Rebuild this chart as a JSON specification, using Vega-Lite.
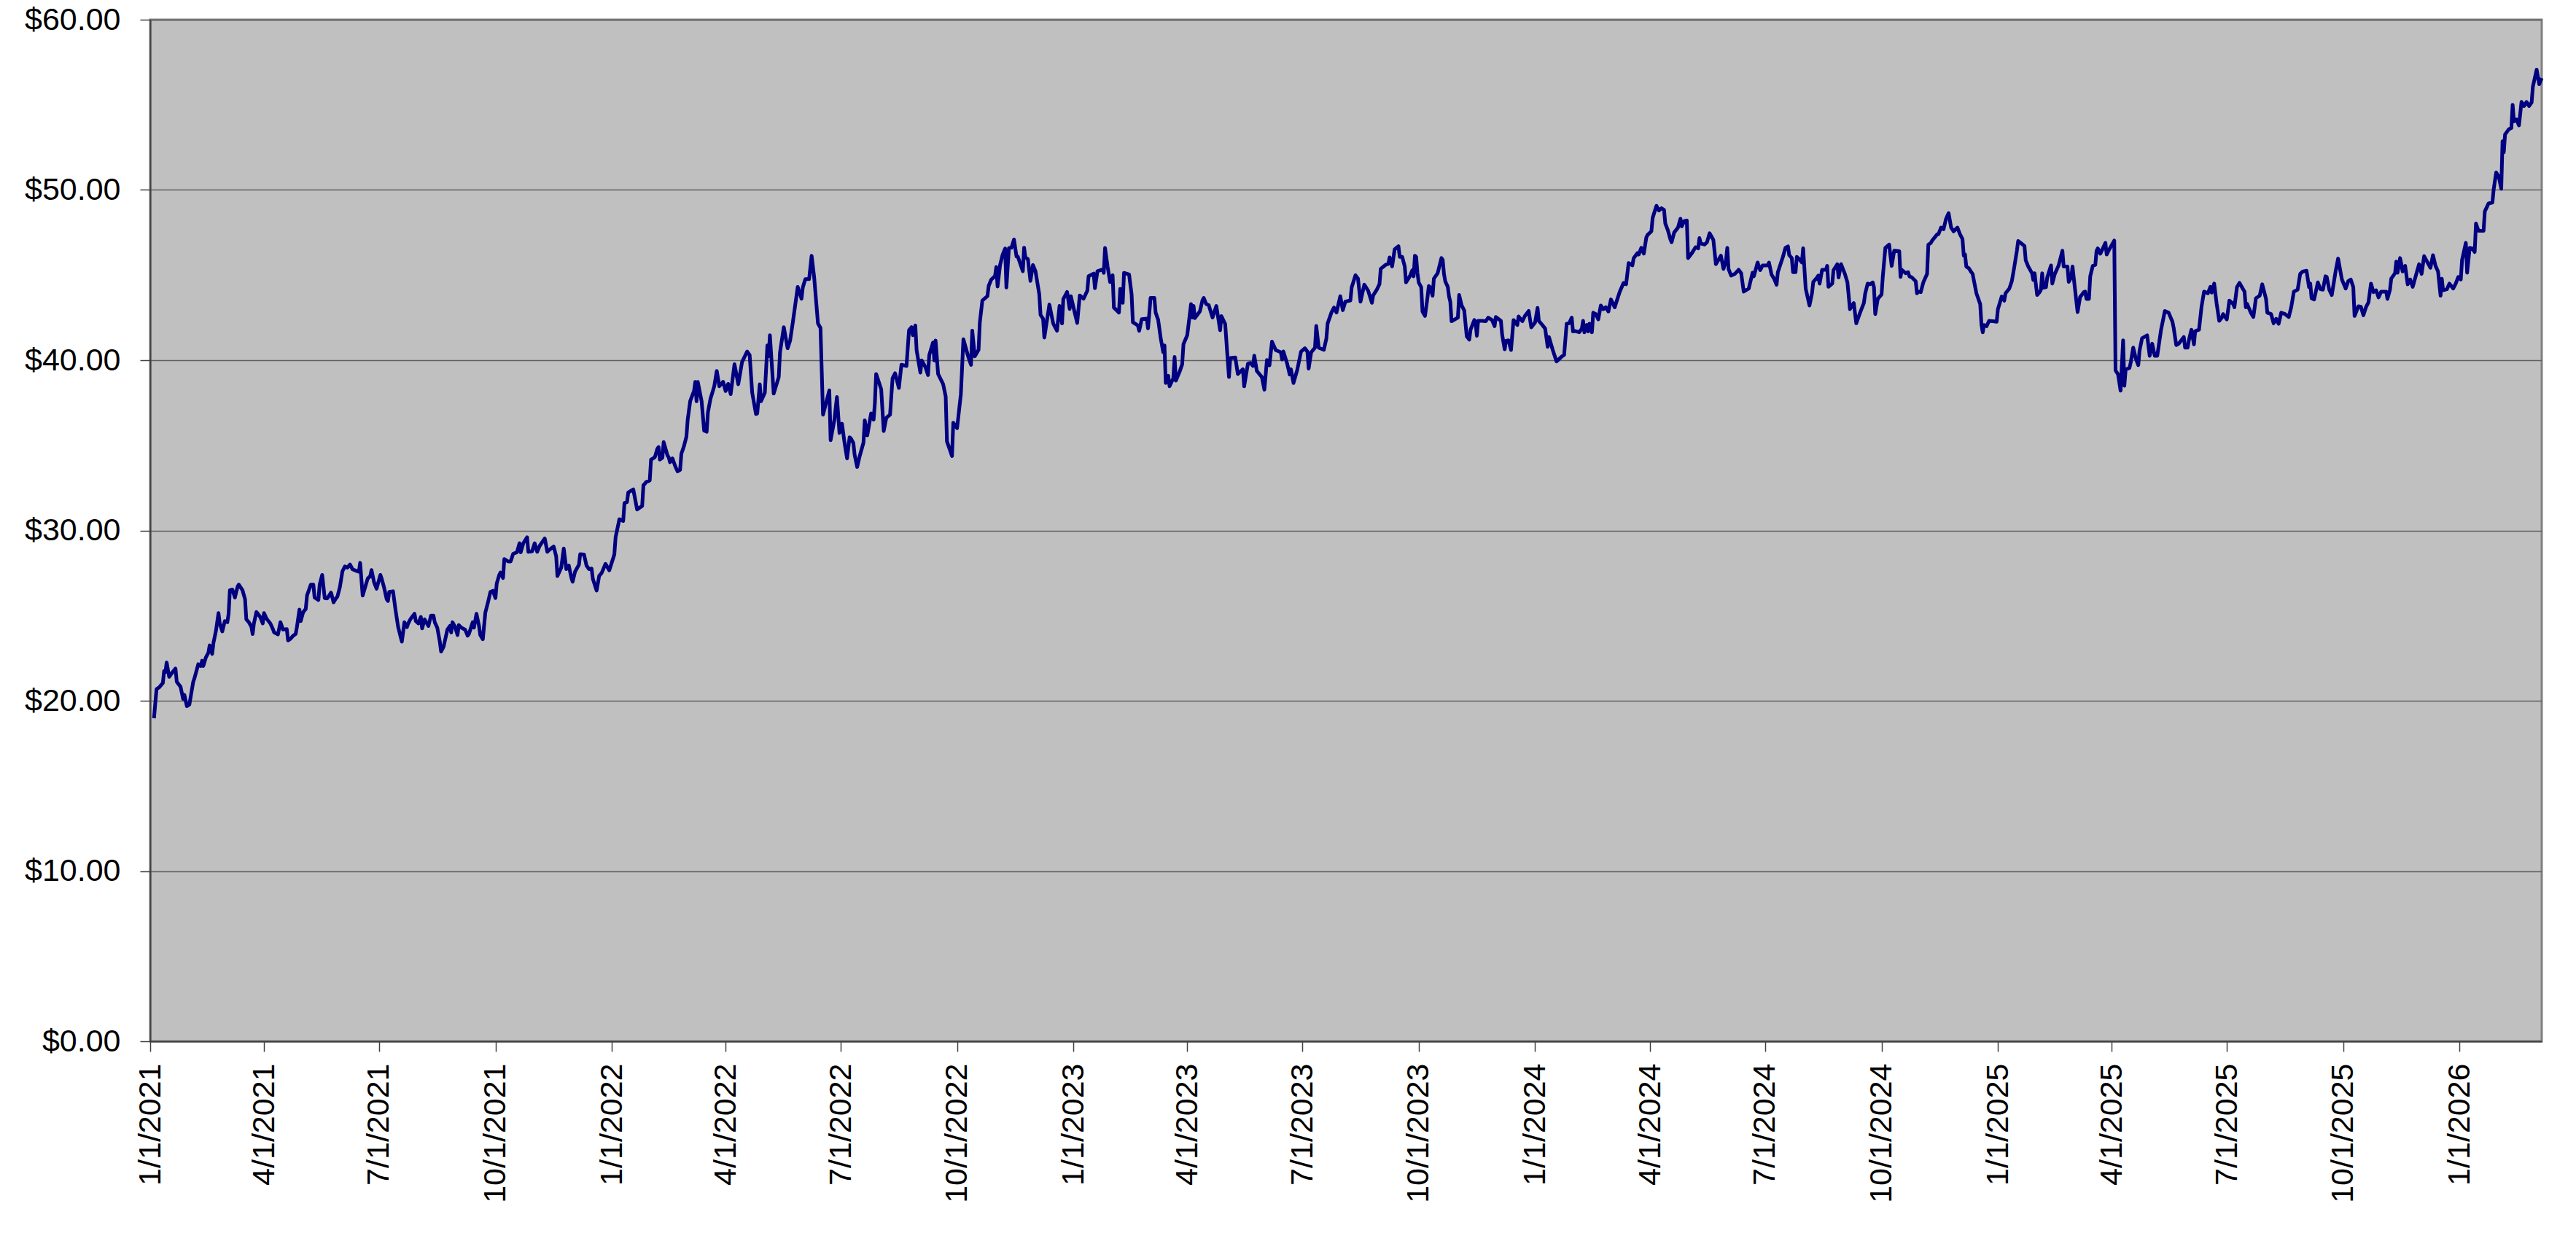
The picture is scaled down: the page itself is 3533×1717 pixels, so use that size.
{
  "$schema": "https://vega.github.io/schema/vega-lite/v6.json",
  "width": 3280,
  "height": 1401,
  "autosize": {"type": "none"},
  "padding": {"left": 206, "top": 27, "right": 47, "bottom": 289},
  "background": "#FFFFFF",
  "config": {
    "view": {"fill": "#C0C0C0", "stroke": "#808080", "strokeWidth": 3},
    "axis": {
      "labelFont": "Liberation Sans",
      "labelFontSize": 43,
      "labelColor": "#000000",
      "labelLimit": 0,
      "domainColor": "#404040",
      "domainWidth": 2,
      "tickColor": "#404040",
      "tickWidth": 1.5,
      "tickSize": 14,
      "labelFlush": false,
      "labelOverlap": false,
      "title": null
    }
  },
  "data": {
    "values": [
      {"date": "2021-01-04", "price": 18.97}, {"date": "2021-01-06", "price": 20.68}, {"date": "2021-01-08", "price": 20.78},
      {"date": "2021-01-11", "price": 21.04}, {"date": "2021-01-12", "price": 21.75}, {"date": "2021-01-13", "price": 21.68},
      {"date": "2021-01-14", "price": 22.25}, {"date": "2021-01-16", "price": 21.40}, {"date": "2021-01-18", "price": 21.61},
      {"date": "2021-01-21", "price": 21.89}, {"date": "2021-01-22", "price": 21.11}, {"date": "2021-01-25", "price": 20.82},
      {"date": "2021-01-27", "price": 20.11}, {"date": "2021-01-28", "price": 20.35}, {"date": "2021-01-30", "price": 19.68},
      {"date": "2021-02-01", "price": 19.78}, {"date": "2021-02-04", "price": 21.11}, {"date": "2021-02-05", "price": 21.32},
      {"date": "2021-02-08", "price": 22.15}, {"date": "2021-02-10", "price": 22.04}, {"date": "2021-02-11", "price": 22.35},
      {"date": "2021-02-12", "price": 22.04}, {"date": "2021-02-14", "price": 22.54}, {"date": "2021-02-16", "price": 22.82},
      {"date": "2021-02-17", "price": 23.25}, {"date": "2021-02-19", "price": 22.75}, {"date": "2021-02-20", "price": 23.39},
      {"date": "2021-02-22", "price": 24.11}, {"date": "2021-02-24", "price": 25.15}, {"date": "2021-02-25", "price": 24.54},
      {"date": "2021-02-27", "price": 24.07}, {"date": "2021-03-01", "price": 24.68}, {"date": "2021-03-03", "price": 24.61},
      {"date": "2021-03-04", "price": 25.11}, {"date": "2021-03-05", "price": 26.49}, {"date": "2021-03-07", "price": 26.53},
      {"date": "2021-03-09", "price": 26.06}, {"date": "2021-03-11", "price": 26.68}, {"date": "2021-03-12", "price": 26.82},
      {"date": "2021-03-15", "price": 26.49}, {"date": "2021-03-17", "price": 25.96}, {"date": "2021-03-18", "price": 24.78},
      {"date": "2021-03-20", "price": 24.61}, {"date": "2021-03-22", "price": 24.35}, {"date": "2021-03-23", "price": 23.92},
      {"date": "2021-03-24", "price": 24.54}, {"date": "2021-03-26", "price": 25.21}, {"date": "2021-03-29", "price": 24.92},
      {"date": "2021-03-31", "price": 24.54}, {"date": "2021-04-01", "price": 25.15}, {"date": "2021-04-03", "price": 24.82},
      {"date": "2021-04-06", "price": 24.54}, {"date": "2021-04-08", "price": 24.21}, {"date": "2021-04-09", "price": 24.01},
      {"date": "2021-04-12", "price": 23.89}, {"date": "2021-04-14", "price": 24.61}, {"date": "2021-04-16", "price": 24.18},
      {"date": "2021-04-19", "price": 24.21}, {"date": "2021-04-20", "price": 23.54}, {"date": "2021-04-22", "price": 23.64},
      {"date": "2021-04-24", "price": 23.82}, {"date": "2021-04-26", "price": 23.92}, {"date": "2021-04-27", "price": 24.32},
      {"date": "2021-04-29", "price": 25.35}, {"date": "2021-04-30", "price": 24.68}, {"date": "2021-05-02", "price": 25.21},
      {"date": "2021-05-04", "price": 25.39}, {"date": "2021-05-05", "price": 26.18}, {"date": "2021-05-08", "price": 26.82},
      {"date": "2021-05-10", "price": 26.82}, {"date": "2021-05-11", "price": 26.06}, {"date": "2021-05-14", "price": 25.92},
      {"date": "2021-05-15", "price": 26.82}, {"date": "2021-05-17", "price": 27.39}, {"date": "2021-05-19", "price": 26.03},
      {"date": "2021-05-21", "price": 26.01}, {"date": "2021-05-24", "price": 26.35}, {"date": "2021-05-26", "price": 25.78},
      {"date": "2021-05-28", "price": 26.03}, {"date": "2021-05-29", "price": 26.11}, {"date": "2021-05-31", "price": 26.68},
      {"date": "2021-06-02", "price": 27.61}, {"date": "2021-06-04", "price": 27.89}, {"date": "2021-06-06", "price": 27.82},
      {"date": "2021-06-08", "price": 28.00}, {"date": "2021-06-10", "price": 27.72}, {"date": "2021-06-13", "price": 27.63},
      {"date": "2021-06-15", "price": 27.58}, {"date": "2021-06-16", "price": 28.10}, {"date": "2021-06-18", "price": 26.18},
      {"date": "2021-06-20", "price": 26.68}, {"date": "2021-06-22", "price": 27.18}, {"date": "2021-06-24", "price": 27.32},
      {"date": "2021-06-25", "price": 27.68}, {"date": "2021-06-27", "price": 26.96}, {"date": "2021-06-29", "price": 26.58},
      {"date": "2021-07-02", "price": 27.39}, {"date": "2021-07-03", "price": 27.18}, {"date": "2021-07-05", "price": 26.63},
      {"date": "2021-07-07", "price": 25.96}, {"date": "2021-07-08", "price": 25.86}, {"date": "2021-07-09", "price": 26.39},
      {"date": "2021-07-12", "price": 26.43}, {"date": "2021-07-14", "price": 25.32}, {"date": "2021-07-16", "price": 24.35},
      {"date": "2021-07-18", "price": 23.75}, {"date": "2021-07-19", "price": 23.47}, {"date": "2021-07-21", "price": 24.61},
      {"date": "2021-07-23", "price": 24.32}, {"date": "2021-07-24", "price": 24.54}, {"date": "2021-07-26", "price": 24.82},
      {"date": "2021-07-29", "price": 25.11}, {"date": "2021-07-30", "price": 24.68}, {"date": "2021-08-01", "price": 24.54},
      {"date": "2021-08-03", "price": 24.92}, {"date": "2021-08-04", "price": 24.25}, {"date": "2021-08-06", "price": 24.78},
      {"date": "2021-08-09", "price": 24.39}, {"date": "2021-08-11", "price": 25.00}, {"date": "2021-08-13", "price": 25.00},
      {"date": "2021-08-14", "price": 24.61}, {"date": "2021-08-16", "price": 24.29}, {"date": "2021-08-18", "price": 23.47},
      {"date": "2021-08-19", "price": 22.89}, {"date": "2021-08-21", "price": 23.18}, {"date": "2021-08-24", "price": 24.18},
      {"date": "2021-08-26", "price": 24.39}, {"date": "2021-08-27", "price": 24.01}, {"date": "2021-08-28", "price": 24.61},
      {"date": "2021-08-30", "price": 24.35}, {"date": "2021-09-01", "price": 23.86}, {"date": "2021-09-02", "price": 24.44},
      {"date": "2021-09-04", "price": 24.29}, {"date": "2021-09-07", "price": 24.18}, {"date": "2021-09-09", "price": 23.82},
      {"date": "2021-09-10", "price": 23.92}, {"date": "2021-09-13", "price": 24.61}, {"date": "2021-09-14", "price": 24.29},
      {"date": "2021-09-16", "price": 25.11}, {"date": "2021-09-18", "price": 24.39}, {"date": "2021-09-19", "price": 23.86},
      {"date": "2021-09-21", "price": 23.61}, {"date": "2021-09-23", "price": 25.18}, {"date": "2021-09-25", "price": 25.75},
      {"date": "2021-09-27", "price": 26.39}, {"date": "2021-09-29", "price": 26.46}, {"date": "2021-10-01", "price": 26.03},
      {"date": "2021-10-02", "price": 26.89}, {"date": "2021-10-04", "price": 27.39}, {"date": "2021-10-05", "price": 27.53},
      {"date": "2021-10-07", "price": 27.21}, {"date": "2021-10-08", "price": 28.32}, {"date": "2021-10-11", "price": 28.18},
      {"date": "2021-10-13", "price": 28.18}, {"date": "2021-10-15", "price": 28.63}, {"date": "2021-10-18", "price": 28.72},
      {"date": "2021-10-20", "price": 29.25}, {"date": "2021-10-21", "price": 28.72}, {"date": "2021-10-23", "price": 29.25},
      {"date": "2021-10-26", "price": 29.60}, {"date": "2021-10-27", "price": 28.75}, {"date": "2021-10-30", "price": 28.78},
      {"date": "2021-11-01", "price": 29.25}, {"date": "2021-11-03", "price": 28.75}, {"date": "2021-11-05", "price": 29.10},
      {"date": "2021-11-09", "price": 29.53}, {"date": "2021-11-11", "price": 28.75}, {"date": "2021-11-13", "price": 28.89},
      {"date": "2021-11-16", "price": 29.06}, {"date": "2021-11-18", "price": 28.49}, {"date": "2021-11-19", "price": 27.32},
      {"date": "2021-11-22", "price": 27.82}, {"date": "2021-11-24", "price": 28.94}, {"date": "2021-11-26", "price": 27.73},
      {"date": "2021-11-28", "price": 27.94}, {"date": "2021-11-30", "price": 27.23}, {"date": "2021-12-01", "price": 26.99},
      {"date": "2021-12-03", "price": 27.59}, {"date": "2021-12-06", "price": 27.99}, {"date": "2021-12-07", "price": 28.61},
      {"date": "2021-12-10", "price": 28.59}, {"date": "2021-12-12", "price": 27.94}, {"date": "2021-12-14", "price": 27.73},
      {"date": "2021-12-16", "price": 27.76}, {"date": "2021-12-17", "price": 27.16}, {"date": "2021-12-20", "price": 26.47},
      {"date": "2021-12-22", "price": 27.33}, {"date": "2021-12-24", "price": 27.51}, {"date": "2021-12-27", "price": 28.04},
      {"date": "2021-12-30", "price": 27.66}, {"date": "2022-01-03", "price": 28.59}, {"date": "2022-01-04", "price": 29.61},
      {"date": "2022-01-07", "price": 30.66}, {"date": "2022-01-10", "price": 30.56}, {"date": "2022-01-11", "price": 31.61},
      {"date": "2022-01-13", "price": 31.66}, {"date": "2022-01-14", "price": 32.23}, {"date": "2022-01-18", "price": 32.41},
      {"date": "2022-01-19", "price": 32.01}, {"date": "2022-01-21", "price": 31.23}, {"date": "2022-01-25", "price": 31.44},
      {"date": "2022-01-26", "price": 32.66}, {"date": "2022-01-27", "price": 32.73}, {"date": "2022-01-28", "price": 32.84},
      {"date": "2022-01-31", "price": 32.94}, {"date": "2022-02-01", "price": 34.16}, {"date": "2022-02-04", "price": 34.30},
      {"date": "2022-02-06", "price": 34.80}, {"date": "2022-02-07", "price": 34.90}, {"date": "2022-02-08", "price": 34.16},
      {"date": "2022-02-10", "price": 34.27}, {"date": "2022-02-11", "price": 35.19}, {"date": "2022-02-14", "price": 34.41},
      {"date": "2022-02-15", "price": 34.30}, {"date": "2022-02-16", "price": 34.01}, {"date": "2022-02-18", "price": 34.23},
      {"date": "2022-02-20", "price": 33.80}, {"date": "2022-02-22", "price": 33.47}, {"date": "2022-02-24", "price": 33.56},
      {"date": "2022-02-25", "price": 34.51}, {"date": "2022-02-27", "price": 34.94}, {"date": "2022-03-01", "price": 35.51},
      {"date": "2022-03-02", "price": 36.51}, {"date": "2022-03-04", "price": 37.61}, {"date": "2022-03-07", "price": 38.19},
      {"date": "2022-03-08", "price": 38.73}, {"date": "2022-03-09", "price": 37.59}, {"date": "2022-03-10", "price": 38.73},
      {"date": "2022-03-13", "price": 37.59}, {"date": "2022-03-15", "price": 35.87}, {"date": "2022-03-17", "price": 35.80},
      {"date": "2022-03-18", "price": 36.94}, {"date": "2022-03-20", "price": 37.73}, {"date": "2022-03-23", "price": 38.47},
      {"date": "2022-03-25", "price": 39.37}, {"date": "2022-03-27", "price": 38.47}, {"date": "2022-03-30", "price": 38.73},
      {"date": "2022-04-01", "price": 38.19}, {"date": "2022-04-03", "price": 38.61}, {"date": "2022-04-05", "price": 38.01},
      {"date": "2022-04-08", "price": 39.76}, {"date": "2022-04-11", "price": 38.59}, {"date": "2022-04-14", "price": 39.90},
      {"date": "2022-04-18", "price": 40.51}, {"date": "2022-04-20", "price": 40.30}, {"date": "2022-04-22", "price": 38.09},
      {"date": "2022-04-25", "price": 36.84}, {"date": "2022-04-26", "price": 36.87}, {"date": "2022-04-28", "price": 38.59},
      {"date": "2022-04-29", "price": 37.59}, {"date": "2022-05-02", "price": 38.09}, {"date": "2022-05-04", "price": 40.87},
      {"date": "2022-05-05", "price": 40.23}, {"date": "2022-05-06", "price": 41.47}, {"date": "2022-05-09", "price": 38.04},
      {"date": "2022-05-13", "price": 39.01}, {"date": "2022-05-14", "price": 40.47}, {"date": "2022-05-17", "price": 41.94},
      {"date": "2022-05-20", "price": 40.70}, {"date": "2022-05-22", "price": 41.16}, {"date": "2022-05-24", "price": 42.16},
      {"date": "2022-05-28", "price": 44.30}, {"date": "2022-05-31", "price": 43.61}, {"date": "2022-06-01", "price": 44.27},
      {"date": "2022-06-03", "price": 44.76}, {"date": "2022-06-06", "price": 44.76}, {"date": "2022-06-08", "price": 46.13},
      {"date": "2022-06-10", "price": 44.87}, {"date": "2022-06-13", "price": 42.16}, {"date": "2022-06-15", "price": 41.90},
      {"date": "2022-06-17", "price": 36.80}, {"date": "2022-06-22", "price": 38.23}, {"date": "2022-06-23", "price": 35.30},
      {"date": "2022-06-26", "price": 36.51}, {"date": "2022-06-28", "price": 37.84}, {"date": "2022-06-30", "price": 35.73},
      {"date": "2022-07-02", "price": 36.27}, {"date": "2022-07-04", "price": 35.16}, {"date": "2022-07-06", "price": 34.23},
      {"date": "2022-07-08", "price": 35.47}, {"date": "2022-07-09", "price": 35.41}, {"date": "2022-07-11", "price": 35.13},
      {"date": "2022-07-12", "price": 34.44}, {"date": "2022-07-14", "price": 33.73}, {"date": "2022-07-16", "price": 34.37},
      {"date": "2022-07-19", "price": 35.16}, {"date": "2022-07-20", "price": 36.47}, {"date": "2022-07-22", "price": 35.59},
      {"date": "2022-07-25", "price": 36.87}, {"date": "2022-07-27", "price": 36.51}, {"date": "2022-07-28", "price": 37.47},
      {"date": "2022-07-29", "price": 39.19}, {"date": "2022-08-02", "price": 38.30}, {"date": "2022-08-04", "price": 35.84},
      {"date": "2022-08-06", "price": 36.61}, {"date": "2022-08-09", "price": 36.80}, {"date": "2022-08-11", "price": 38.94},
      {"date": "2022-08-13", "price": 39.23}, {"date": "2022-08-16", "price": 38.37}, {"date": "2022-08-18", "price": 39.73},
      {"date": "2022-08-22", "price": 39.66}, {"date": "2022-08-24", "price": 41.76}, {"date": "2022-08-26", "price": 41.94},
      {"date": "2022-08-27", "price": 41.47}, {"date": "2022-08-29", "price": 42.04}, {"date": "2022-08-30", "price": 40.59},
      {"date": "2022-09-02", "price": 39.27}, {"date": "2022-09-03", "price": 39.99}, {"date": "2022-09-06", "price": 39.59},
      {"date": "2022-09-08", "price": 39.13}, {"date": "2022-09-09", "price": 40.30}, {"date": "2022-09-12", "price": 41.04},
      {"date": "2022-09-13", "price": 39.99}, {"date": "2022-09-14", "price": 41.16}, {"date": "2022-09-16", "price": 39.19},
      {"date": "2022-09-20", "price": 38.59}, {"date": "2022-09-22", "price": 37.87}, {"date": "2022-09-23", "price": 35.23},
      {"date": "2022-09-27", "price": 34.37}, {"date": "2022-09-28", "price": 36.33}, {"date": "2022-10-01", "price": 36.01},
      {"date": "2022-10-04", "price": 38.01}, {"date": "2022-10-06", "price": 41.23}, {"date": "2022-10-10", "price": 40.16},
      {"date": "2022-10-12", "price": 39.73}, {"date": "2022-10-13", "price": 41.73}, {"date": "2022-10-15", "price": 40.23},
      {"date": "2022-10-18", "price": 40.61}, {"date": "2022-10-19", "price": 42.23}, {"date": "2022-10-21", "price": 43.51},
      {"date": "2022-10-25", "price": 43.76}, {"date": "2022-10-26", "price": 44.37}, {"date": "2022-10-28", "price": 44.73},
      {"date": "2022-10-31", "price": 44.94}, {"date": "2022-11-01", "price": 45.47}, {"date": "2022-11-02", "price": 44.33},
      {"date": "2022-11-04", "price": 45.59}, {"date": "2022-11-06", "price": 46.19}, {"date": "2022-11-08", "price": 46.56},
      {"date": "2022-11-09", "price": 44.27}, {"date": "2022-11-11", "price": 46.59}, {"date": "2022-11-13", "price": 46.61},
      {"date": "2022-11-15", "price": 47.09}, {"date": "2022-11-17", "price": 46.09}, {"date": "2022-11-18", "price": 46.09},
      {"date": "2022-11-22", "price": 45.23}, {"date": "2022-11-23", "price": 46.61}, {"date": "2022-11-24", "price": 46.04},
      {"date": "2022-11-26", "price": 45.94}, {"date": "2022-11-28", "price": 44.66}, {"date": "2022-11-30", "price": 45.59},
      {"date": "2022-12-02", "price": 45.23}, {"date": "2022-12-05", "price": 43.87}, {"date": "2022-12-06", "price": 42.66},
      {"date": "2022-12-08", "price": 42.44}, {"date": "2022-12-09", "price": 41.33}, {"date": "2022-12-13", "price": 43.27},
      {"date": "2022-12-16", "price": 42.16}, {"date": "2022-12-19", "price": 41.73}, {"date": "2022-12-21", "price": 43.19},
      {"date": "2022-12-23", "price": 42.16}, {"date": "2022-12-24", "price": 43.59}, {"date": "2022-12-27", "price": 44.01},
      {"date": "2022-12-29", "price": 43.01}, {"date": "2022-12-30", "price": 43.76}, {"date": "2023-01-02", "price": 42.80},
      {"date": "2023-01-04", "price": 42.19}, {"date": "2023-01-06", "price": 43.80}, {"date": "2023-01-09", "price": 43.61},
      {"date": "2023-01-12", "price": 44.09}, {"date": "2023-01-13", "price": 44.94}, {"date": "2023-01-17", "price": 45.09},
      {"date": "2023-01-18", "price": 44.23}, {"date": "2023-01-20", "price": 45.23}, {"date": "2023-01-24", "price": 45.33},
      {"date": "2023-01-25", "price": 45.13}, {"date": "2023-01-26", "price": 46.59}, {"date": "2023-01-28", "price": 45.51},
      {"date": "2023-01-30", "price": 44.59}, {"date": "2023-02-01", "price": 44.99}, {"date": "2023-02-02", "price": 43.09},
      {"date": "2023-02-06", "price": 42.80}, {"date": "2023-02-07", "price": 44.19}, {"date": "2023-02-09", "price": 43.37},
      {"date": "2023-02-10", "price": 45.13}, {"date": "2023-02-14", "price": 45.04}, {"date": "2023-02-16", "price": 43.87},
      {"date": "2023-02-17", "price": 42.23}, {"date": "2023-02-21", "price": 42.04}, {"date": "2023-02-22", "price": 41.73},
      {"date": "2023-02-24", "price": 42.41}, {"date": "2023-02-28", "price": 42.44}, {"date": "2023-03-01", "price": 41.87},
      {"date": "2023-03-03", "price": 43.66}, {"date": "2023-03-06", "price": 43.66}, {"date": "2023-03-07", "price": 42.80},
      {"date": "2023-03-09", "price": 42.37}, {"date": "2023-03-11", "price": 41.30}, {"date": "2023-03-13", "price": 40.47},
      {"date": "2023-03-14", "price": 40.87}, {"date": "2023-03-15", "price": 38.66}, {"date": "2023-03-17", "price": 39.09},
      {"date": "2023-03-18", "price": 38.47}, {"date": "2023-03-21", "price": 38.94}, {"date": "2023-03-22", "price": 40.19},
      {"date": "2023-03-23", "price": 38.80}, {"date": "2023-03-26", "price": 39.33}, {"date": "2023-03-28", "price": 39.76},
      {"date": "2023-03-29", "price": 40.94}, {"date": "2023-04-01", "price": 41.47}, {"date": "2023-04-04", "price": 43.30},
      {"date": "2023-04-05", "price": 42.51}, {"date": "2023-04-06", "price": 43.19}, {"date": "2023-04-07", "price": 42.47},
      {"date": "2023-04-11", "price": 42.87}, {"date": "2023-04-13", "price": 43.51}, {"date": "2023-04-14", "price": 43.66},
      {"date": "2023-04-16", "price": 43.30}, {"date": "2023-04-18", "price": 43.23}, {"date": "2023-04-21", "price": 42.51},
      {"date": "2023-04-24", "price": 43.19}, {"date": "2023-04-27", "price": 41.76}, {"date": "2023-04-28", "price": 42.59},
      {"date": "2023-05-01", "price": 42.13}, {"date": "2023-05-03", "price": 40.01}, {"date": "2023-05-04", "price": 39.01},
      {"date": "2023-05-05", "price": 40.13}, {"date": "2023-05-09", "price": 40.16}, {"date": "2023-05-11", "price": 39.19},
      {"date": "2023-05-15", "price": 39.47}, {"date": "2023-05-16", "price": 38.47}, {"date": "2023-05-19", "price": 39.80},
      {"date": "2023-05-21", "price": 39.84}, {"date": "2023-05-23", "price": 39.66}, {"date": "2023-05-24", "price": 40.27},
      {"date": "2023-05-26", "price": 39.37}, {"date": "2023-05-30", "price": 39.01}, {"date": "2023-06-01", "price": 38.27},
      {"date": "2023-06-03", "price": 40.01}, {"date": "2023-06-05", "price": 39.70}, {"date": "2023-06-07", "price": 41.09},
      {"date": "2023-06-10", "price": 40.59}, {"date": "2023-06-14", "price": 40.47}, {"date": "2023-06-15", "price": 40.04},
      {"date": "2023-06-16", "price": 40.51}, {"date": "2023-06-19", "price": 39.80}, {"date": "2023-06-21", "price": 39.16},
      {"date": "2023-06-22", "price": 39.47}, {"date": "2023-06-24", "price": 38.66}, {"date": "2023-06-27", "price": 39.44},
      {"date": "2023-06-30", "price": 40.51}, {"date": "2023-07-03", "price": 40.70}, {"date": "2023-07-05", "price": 40.51},
      {"date": "2023-07-06", "price": 39.51}, {"date": "2023-07-08", "price": 40.47}, {"date": "2023-07-11", "price": 40.73},
      {"date": "2023-07-12", "price": 42.01}, {"date": "2023-07-14", "price": 40.73}, {"date": "2023-07-18", "price": 40.61},
      {"date": "2023-07-20", "price": 41.27}, {"date": "2023-07-21", "price": 42.16}, {"date": "2023-07-24", "price": 42.80},
      {"date": "2023-07-26", "price": 43.09}, {"date": "2023-07-28", "price": 42.80}, {"date": "2023-07-31", "price": 43.76},
      {"date": "2023-08-02", "price": 42.94}, {"date": "2023-08-04", "price": 43.44}, {"date": "2023-08-08", "price": 43.51},
      {"date": "2023-08-09", "price": 44.27}, {"date": "2023-08-12", "price": 44.99}, {"date": "2023-08-14", "price": 44.80},
      {"date": "2023-08-16", "price": 43.44}, {"date": "2023-08-19", "price": 44.44}, {"date": "2023-08-22", "price": 44.09},
      {"date": "2023-08-25", "price": 43.37}, {"date": "2023-08-26", "price": 43.80}, {"date": "2023-08-29", "price": 44.16},
      {"date": "2023-08-31", "price": 44.47}, {"date": "2023-09-01", "price": 45.37}, {"date": "2023-09-05", "price": 45.61},
      {"date": "2023-09-07", "price": 45.66}, {"date": "2023-09-08", "price": 46.04}, {"date": "2023-09-10", "price": 45.51},
      {"date": "2023-09-12", "price": 46.51}, {"date": "2023-09-15", "price": 46.70}, {"date": "2023-09-16", "price": 46.07},
      {"date": "2023-09-18", "price": 46.07}, {"date": "2023-09-20", "price": 45.50}, {"date": "2023-09-21", "price": 44.57},
      {"date": "2023-09-24", "price": 44.93}, {"date": "2023-09-26", "price": 45.29}, {"date": "2023-09-27", "price": 44.93},
      {"date": "2023-09-28", "price": 46.14}, {"date": "2023-09-29", "price": 46.07}, {"date": "2023-09-30", "price": 45.14},
      {"date": "2023-10-01", "price": 44.57}, {"date": "2023-10-03", "price": 44.29}, {"date": "2023-10-04", "price": 42.86},
      {"date": "2023-10-06", "price": 42.60}, {"date": "2023-10-08", "price": 43.71}, {"date": "2023-10-09", "price": 44.36},
      {"date": "2023-10-10", "price": 44.29}, {"date": "2023-10-12", "price": 43.79}, {"date": "2023-10-13", "price": 44.79},
      {"date": "2023-10-16", "price": 45.11}, {"date": "2023-10-19", "price": 46.00}, {"date": "2023-10-20", "price": 45.89},
      {"date": "2023-10-21", "price": 45.07}, {"date": "2023-10-22", "price": 44.64}, {"date": "2023-10-24", "price": 44.31},
      {"date": "2023-10-25", "price": 43.74}, {"date": "2023-10-26", "price": 43.43}, {"date": "2023-10-27", "price": 42.29},
      {"date": "2023-10-31", "price": 42.46}, {"date": "2023-11-01", "price": 42.50}, {"date": "2023-11-02", "price": 43.83},
      {"date": "2023-11-04", "price": 43.21}, {"date": "2023-11-06", "price": 42.93}, {"date": "2023-11-08", "price": 41.40},
      {"date": "2023-11-10", "price": 41.21}, {"date": "2023-11-11", "price": 41.79}, {"date": "2023-11-14", "price": 42.36},
      {"date": "2023-11-15", "price": 42.21}, {"date": "2023-11-16", "price": 41.43}, {"date": "2023-11-17", "price": 42.31},
      {"date": "2023-11-20", "price": 42.31}, {"date": "2023-11-23", "price": 42.29}, {"date": "2023-11-25", "price": 42.50},
      {"date": "2023-11-28", "price": 42.36}, {"date": "2023-11-30", "price": 42.00}, {"date": "2023-12-01", "price": 42.54},
      {"date": "2023-12-05", "price": 42.31}, {"date": "2023-12-06", "price": 41.50}, {"date": "2023-12-08", "price": 40.64},
      {"date": "2023-12-09", "price": 41.14}, {"date": "2023-12-11", "price": 41.17}, {"date": "2023-12-13", "price": 40.60},
      {"date": "2023-12-15", "price": 42.36}, {"date": "2023-12-18", "price": 42.07}, {"date": "2023-12-19", "price": 42.57},
      {"date": "2023-12-22", "price": 42.29}, {"date": "2023-12-24", "price": 42.60}, {"date": "2023-12-27", "price": 42.89},
      {"date": "2023-12-29", "price": 41.93}, {"date": "2024-01-01", "price": 42.21}, {"date": "2024-01-03", "price": 43.07},
      {"date": "2024-01-04", "price": 42.31}, {"date": "2024-01-06", "price": 42.14}, {"date": "2024-01-09", "price": 41.86},
      {"date": "2024-01-11", "price": 40.79}, {"date": "2024-01-12", "price": 41.36}, {"date": "2024-01-15", "price": 40.60},
      {"date": "2024-01-18", "price": 39.93}, {"date": "2024-01-22", "price": 40.21}, {"date": "2024-01-24", "price": 40.31},
      {"date": "2024-01-26", "price": 42.14}, {"date": "2024-01-28", "price": 42.17}, {"date": "2024-01-30", "price": 42.50},
      {"date": "2024-01-31", "price": 41.69}, {"date": "2024-02-02", "price": 41.71}, {"date": "2024-02-05", "price": 41.64},
      {"date": "2024-02-07", "price": 41.86}, {"date": "2024-02-08", "price": 42.31}, {"date": "2024-02-09", "price": 41.64},
      {"date": "2024-02-11", "price": 42.07}, {"date": "2024-02-12", "price": 41.69}, {"date": "2024-02-13", "price": 42.14},
      {"date": "2024-02-15", "price": 41.64}, {"date": "2024-02-16", "price": 42.79}, {"date": "2024-02-18", "price": 42.71},
      {"date": "2024-02-20", "price": 42.40}, {"date": "2024-02-22", "price": 43.21}, {"date": "2024-02-24", "price": 43.00},
      {"date": "2024-02-26", "price": 43.11}, {"date": "2024-02-28", "price": 42.86}, {"date": "2024-03-01", "price": 43.57},
      {"date": "2024-03-04", "price": 43.11}, {"date": "2024-03-06", "price": 43.57}, {"date": "2024-03-08", "price": 44.03},
      {"date": "2024-03-11", "price": 44.54}, {"date": "2024-03-13", "price": 44.46}, {"date": "2024-03-15", "price": 45.71},
      {"date": "2024-03-18", "price": 45.57}, {"date": "2024-03-19", "price": 46.00}, {"date": "2024-03-22", "price": 46.29},
      {"date": "2024-03-23", "price": 46.21}, {"date": "2024-03-25", "price": 46.60}, {"date": "2024-03-27", "price": 46.26},
      {"date": "2024-03-29", "price": 47.21}, {"date": "2024-03-30", "price": 47.36}, {"date": "2024-04-02", "price": 47.57},
      {"date": "2024-04-03", "price": 48.36}, {"date": "2024-04-04", "price": 48.60}, {"date": "2024-04-06", "price": 49.07},
      {"date": "2024-04-08", "price": 48.79}, {"date": "2024-04-10", "price": 48.93}, {"date": "2024-04-12", "price": 48.83},
      {"date": "2024-04-13", "price": 48.03}, {"date": "2024-04-15", "price": 47.64}, {"date": "2024-04-17", "price": 47.11},
      {"date": "2024-04-18", "price": 46.93}, {"date": "2024-04-20", "price": 47.50}, {"date": "2024-04-23", "price": 47.79},
      {"date": "2024-04-25", "price": 48.31}, {"date": "2024-04-26", "price": 47.86}, {"date": "2024-04-28", "price": 48.17},
      {"date": "2024-04-30", "price": 48.21}, {"date": "2024-05-01", "price": 46.00}, {"date": "2024-05-04", "price": 46.29},
      {"date": "2024-05-07", "price": 46.64}, {"date": "2024-05-09", "price": 46.57}, {"date": "2024-05-10", "price": 47.17},
      {"date": "2024-05-11", "price": 46.86}, {"date": "2024-05-14", "price": 46.79}, {"date": "2024-05-16", "price": 46.93},
      {"date": "2024-05-18", "price": 47.46}, {"date": "2024-05-21", "price": 47.07}, {"date": "2024-05-23", "price": 45.64},
      {"date": "2024-05-27", "price": 46.14}, {"date": "2024-05-29", "price": 45.36}, {"date": "2024-05-31", "price": 45.86},
      {"date": "2024-06-01", "price": 46.60}, {"date": "2024-06-02", "price": 45.36}, {"date": "2024-06-04", "price": 44.97},
      {"date": "2024-06-07", "price": 45.07}, {"date": "2024-06-10", "price": 45.31}, {"date": "2024-06-12", "price": 45.11},
      {"date": "2024-06-14", "price": 44.03}, {"date": "2024-06-18", "price": 44.21}, {"date": "2024-06-21", "price": 45.14},
      {"date": "2024-06-22", "price": 44.93}, {"date": "2024-06-25", "price": 45.74}, {"date": "2024-06-27", "price": 45.29},
      {"date": "2024-06-29", "price": 45.57}, {"date": "2024-07-03", "price": 45.57}, {"date": "2024-07-04", "price": 45.74},
      {"date": "2024-07-06", "price": 45.03}, {"date": "2024-07-08", "price": 44.79}, {"date": "2024-07-10", "price": 44.43},
      {"date": "2024-07-11", "price": 45.17}, {"date": "2024-07-15", "price": 46.07}, {"date": "2024-07-17", "price": 46.60},
      {"date": "2024-07-19", "price": 46.69}, {"date": "2024-07-20", "price": 46.17}, {"date": "2024-07-22", "price": 46.00},
      {"date": "2024-07-23", "price": 45.17}, {"date": "2024-07-25", "price": 45.17}, {"date": "2024-07-26", "price": 46.07},
      {"date": "2024-07-28", "price": 45.93}, {"date": "2024-07-30", "price": 45.74}, {"date": "2024-07-31", "price": 46.57},
      {"date": "2024-08-02", "price": 44.21}, {"date": "2024-08-05", "price": 43.21}, {"date": "2024-08-07", "price": 43.93},
      {"date": "2024-08-08", "price": 44.60}, {"date": "2024-08-11", "price": 44.86}, {"date": "2024-08-12", "price": 44.97},
      {"date": "2024-08-13", "price": 44.50}, {"date": "2024-08-15", "price": 45.31}, {"date": "2024-08-18", "price": 45.31},
      {"date": "2024-08-19", "price": 45.54}, {"date": "2024-08-20", "price": 44.31}, {"date": "2024-08-23", "price": 44.50},
      {"date": "2024-08-24", "price": 45.29}, {"date": "2024-08-27", "price": 45.64}, {"date": "2024-08-28", "price": 44.86},
      {"date": "2024-08-30", "price": 45.64}, {"date": "2024-09-02", "price": 45.07}, {"date": "2024-09-04", "price": 44.57},
      {"date": "2024-09-05", "price": 43.79}, {"date": "2024-09-06", "price": 43.00}, {"date": "2024-09-09", "price": 43.36},
      {"date": "2024-09-11", "price": 42.17}, {"date": "2024-09-14", "price": 42.79}, {"date": "2024-09-17", "price": 43.36},
      {"date": "2024-09-18", "price": 43.89}, {"date": "2024-09-20", "price": 44.50}, {"date": "2024-09-22", "price": 44.46},
      {"date": "2024-09-24", "price": 44.57}, {"date": "2024-09-25", "price": 44.29}, {"date": "2024-09-26", "price": 42.71},
      {"date": "2024-09-28", "price": 43.60}, {"date": "2024-10-01", "price": 43.86}, {"date": "2024-10-02", "price": 44.93},
      {"date": "2024-10-04", "price": 46.60}, {"date": "2024-10-07", "price": 46.79}, {"date": "2024-10-09", "price": 45.54},
      {"date": "2024-10-11", "price": 46.43}, {"date": "2024-10-15", "price": 46.40}, {"date": "2024-10-16", "price": 44.89},
      {"date": "2024-10-17", "price": 45.31}, {"date": "2024-10-20", "price": 45.11}, {"date": "2024-10-22", "price": 45.17},
      {"date": "2024-10-23", "price": 44.93}, {"date": "2024-10-25", "price": 44.86}, {"date": "2024-10-28", "price": 44.64},
      {"date": "2024-10-29", "price": 43.93}, {"date": "2024-10-30", "price": 44.03}, {"date": "2024-11-01", "price": 44.00},
      {"date": "2024-11-03", "price": 44.57}, {"date": "2024-11-06", "price": 45.07}, {"date": "2024-11-07", "price": 46.79},
      {"date": "2024-11-09", "price": 46.89}, {"date": "2024-11-10", "price": 47.03}, {"date": "2024-11-12", "price": 47.21},
      {"date": "2024-11-14", "price": 47.40}, {"date": "2024-11-15", "price": 47.40}, {"date": "2024-11-17", "price": 47.79},
      {"date": "2024-11-19", "price": 47.69}, {"date": "2024-11-21", "price": 48.31}, {"date": "2024-11-23", "price": 48.64},
      {"date": "2024-11-25", "price": 47.79}, {"date": "2024-11-27", "price": 47.57}, {"date": "2024-11-30", "price": 47.79},
      {"date": "2024-12-02", "price": 47.40}, {"date": "2024-12-04", "price": 47.11}, {"date": "2024-12-05", "price": 46.14},
      {"date": "2024-12-06", "price": 46.21}, {"date": "2024-12-07", "price": 45.50}, {"date": "2024-12-09", "price": 45.40},
      {"date": "2024-12-11", "price": 45.17}, {"date": "2024-12-12", "price": 45.07}, {"date": "2024-12-15", "price": 43.93},
      {"date": "2024-12-18", "price": 43.29}, {"date": "2024-12-19", "price": 42.07}, {"date": "2024-12-20", "price": 41.64},
      {"date": "2024-12-21", "price": 42.07}, {"date": "2024-12-23", "price": 42.00}, {"date": "2024-12-25", "price": 42.31},
      {"date": "2024-12-28", "price": 42.29}, {"date": "2024-12-31", "price": 42.26}, {"date": "2025-01-01", "price": 43.00},
      {"date": "2025-01-04", "price": 43.74}, {"date": "2025-01-06", "price": 43.50}, {"date": "2025-01-07", "price": 43.93},
      {"date": "2025-01-10", "price": 44.21}, {"date": "2025-01-12", "price": 44.64}, {"date": "2025-01-14", "price": 45.50},
      {"date": "2025-01-16", "price": 46.43}, {"date": "2025-01-17", "price": 47.00}, {"date": "2025-01-20", "price": 46.83},
      {"date": "2025-01-22", "price": 46.71}, {"date": "2025-01-23", "price": 45.86}, {"date": "2025-01-25", "price": 45.50},
      {"date": "2025-01-28", "price": 45.11}, {"date": "2025-01-29", "price": 44.71}, {"date": "2025-01-30", "price": 45.11},
      {"date": "2025-02-01", "price": 43.83}, {"date": "2025-02-03", "price": 44.00}, {"date": "2025-02-04", "price": 44.14},
      {"date": "2025-02-05", "price": 45.11}, {"date": "2025-02-06", "price": 44.26}, {"date": "2025-02-08", "price": 44.29},
      {"date": "2025-02-09", "price": 44.86}, {"date": "2025-02-12", "price": 45.57}, {"date": "2025-02-13", "price": 44.50},
      {"date": "2025-02-15", "price": 45.07}, {"date": "2025-02-18", "price": 45.57}, {"date": "2025-02-21", "price": 46.43},
      {"date": "2025-02-22", "price": 45.50}, {"date": "2025-02-25", "price": 45.50}, {"date": "2025-02-26", "price": 44.60},
      {"date": "2025-02-28", "price": 44.86}, {"date": "2025-03-01", "price": 45.50}, {"date": "2025-03-03", "price": 44.14},
      {"date": "2025-03-05", "price": 42.83}, {"date": "2025-03-07", "price": 43.71}, {"date": "2025-03-10", "price": 44.00},
      {"date": "2025-03-11", "price": 44.03}, {"date": "2025-03-12", "price": 43.60}, {"date": "2025-03-14", "price": 43.60},
      {"date": "2025-03-15", "price": 44.93}, {"date": "2025-03-17", "price": 45.54}, {"date": "2025-03-19", "price": 45.60},
      {"date": "2025-03-20", "price": 46.43}, {"date": "2025-03-21", "price": 46.57}, {"date": "2025-03-23", "price": 46.26},
      {"date": "2025-03-25", "price": 46.57}, {"date": "2025-03-27", "price": 46.89}, {"date": "2025-03-28", "price": 46.21},
      {"date": "2025-03-30", "price": 46.50}, {"date": "2025-04-03", "price": 47.03}, {"date": "2025-04-04", "price": 39.40},
      {"date": "2025-04-06", "price": 39.17}, {"date": "2025-04-08", "price": 38.21}, {"date": "2025-04-10", "price": 41.17},
      {"date": "2025-04-11", "price": 38.50}, {"date": "2025-04-12", "price": 39.46}, {"date": "2025-04-15", "price": 39.54},
      {"date": "2025-04-16", "price": 39.86}, {"date": "2025-04-18", "price": 40.74}, {"date": "2025-04-20", "price": 40.11},
      {"date": "2025-04-22", "price": 39.71}, {"date": "2025-04-23", "price": 40.57}, {"date": "2025-04-25", "price": 41.29},
      {"date": "2025-04-29", "price": 41.46}, {"date": "2025-05-01", "price": 40.26}, {"date": "2025-05-03", "price": 40.97},
      {"date": "2025-05-05", "price": 40.26}, {"date": "2025-05-07", "price": 40.26}, {"date": "2025-05-10", "price": 41.79},
      {"date": "2025-05-13", "price": 42.89}, {"date": "2025-05-16", "price": 42.79}, {"date": "2025-05-19", "price": 42.26},
      {"date": "2025-05-20", "price": 41.89}, {"date": "2025-05-22", "price": 40.89}, {"date": "2025-05-24", "price": 40.97},
      {"date": "2025-05-28", "price": 41.36}, {"date": "2025-05-29", "price": 40.74}, {"date": "2025-05-31", "price": 40.74},
      {"date": "2025-06-01", "price": 41.17}, {"date": "2025-06-03", "price": 41.79}, {"date": "2025-06-05", "price": 40.93},
      {"date": "2025-06-06", "price": 41.71}, {"date": "2025-06-09", "price": 41.79}, {"date": "2025-06-11", "price": 43.14},
      {"date": "2025-06-13", "price": 44.03}, {"date": "2025-06-16", "price": 43.93}, {"date": "2025-06-18", "price": 44.31},
      {"date": "2025-06-19", "price": 43.97}, {"date": "2025-06-21", "price": 44.50}, {"date": "2025-06-23", "price": 43.29},
      {"date": "2025-06-25", "price": 42.31}, {"date": "2025-06-27", "price": 42.50}, {"date": "2025-06-28", "price": 42.71},
      {"date": "2025-07-01", "price": 42.40}, {"date": "2025-07-03", "price": 43.50}, {"date": "2025-07-06", "price": 43.31},
      {"date": "2025-07-07", "price": 43.11}, {"date": "2025-07-09", "price": 44.29}, {"date": "2025-07-11", "price": 44.54},
      {"date": "2025-07-15", "price": 44.03}, {"date": "2025-07-16", "price": 43.11}, {"date": "2025-07-17", "price": 43.31},
      {"date": "2025-07-20", "price": 42.79}, {"date": "2025-07-22", "price": 42.54}, {"date": "2025-07-24", "price": 43.64},
      {"date": "2025-07-27", "price": 43.79}, {"date": "2025-07-29", "price": 44.46}, {"date": "2025-08-01", "price": 43.60},
      {"date": "2025-08-02", "price": 42.79}, {"date": "2025-08-05", "price": 42.71}, {"date": "2025-08-07", "price": 42.17},
      {"date": "2025-08-09", "price": 42.43}, {"date": "2025-08-11", "price": 42.14}, {"date": "2025-08-13", "price": 42.79},
      {"date": "2025-08-16", "price": 42.71}, {"date": "2025-08-19", "price": 42.54}, {"date": "2025-08-21", "price": 43.14},
      {"date": "2025-08-23", "price": 44.03}, {"date": "2025-08-26", "price": 44.14}, {"date": "2025-08-28", "price": 45.07},
      {"date": "2025-08-30", "price": 45.21}, {"date": "2025-09-02", "price": 45.26}, {"date": "2025-09-04", "price": 44.29},
      {"date": "2025-09-05", "price": 44.50}, {"date": "2025-09-06", "price": 43.64}, {"date": "2025-09-08", "price": 43.57},
      {"date": "2025-09-11", "price": 44.57}, {"date": "2025-09-13", "price": 44.17}, {"date": "2025-09-15", "price": 44.14},
      {"date": "2025-09-17", "price": 44.93}, {"date": "2025-09-18", "price": 44.89}, {"date": "2025-09-20", "price": 44.14},
      {"date": "2025-09-22", "price": 43.83}, {"date": "2025-09-25", "price": 45.21}, {"date": "2025-09-27", "price": 45.97},
      {"date": "2025-09-30", "price": 44.74}, {"date": "2025-10-03", "price": 44.21}, {"date": "2025-10-05", "price": 44.64},
      {"date": "2025-10-07", "price": 44.74}, {"date": "2025-10-09", "price": 44.29}, {"date": "2025-10-10", "price": 42.60},
      {"date": "2025-10-13", "price": 43.17}, {"date": "2025-10-15", "price": 43.14}, {"date": "2025-10-17", "price": 42.64},
      {"date": "2025-10-19", "price": 43.11}, {"date": "2025-10-21", "price": 43.40}, {"date": "2025-10-23", "price": 44.50},
      {"date": "2025-10-25", "price": 44.00}, {"date": "2025-10-27", "price": 44.11}, {"date": "2025-10-29", "price": 43.69},
      {"date": "2025-10-31", "price": 44.03}, {"date": "2025-11-04", "price": 44.03}, {"date": "2025-11-05", "price": 43.60},
      {"date": "2025-11-07", "price": 44.14}, {"date": "2025-11-08", "price": 44.79}, {"date": "2025-11-11", "price": 45.11},
      {"date": "2025-11-12", "price": 45.79}, {"date": "2025-11-13", "price": 45.14}, {"date": "2025-11-15", "price": 46.00},
      {"date": "2025-11-16", "price": 45.64}, {"date": "2025-11-17", "price": 45.21}, {"date": "2025-11-19", "price": 45.54},
      {"date": "2025-11-21", "price": 44.46}, {"date": "2025-11-23", "price": 44.74}, {"date": "2025-11-25", "price": 44.31},
      {"date": "2025-11-28", "price": 45.11}, {"date": "2025-11-30", "price": 45.64}, {"date": "2025-12-02", "price": 45.07},
      {"date": "2025-12-04", "price": 46.11}, {"date": "2025-12-09", "price": 45.43}, {"date": "2025-12-11", "price": 46.17},
      {"date": "2025-12-13", "price": 45.54}, {"date": "2025-12-15", "price": 45.21}, {"date": "2025-12-17", "price": 43.79},
      {"date": "2025-12-18", "price": 44.79}, {"date": "2025-12-19", "price": 44.11}, {"date": "2025-12-22", "price": 44.17},
      {"date": "2025-12-24", "price": 44.50}, {"date": "2025-12-27", "price": 44.21}, {"date": "2025-12-29", "price": 44.50},
      {"date": "2025-12-31", "price": 44.89}, {"date": "2026-01-02", "price": 44.74}, {"date": "2026-01-03", "price": 45.89},
      {"date": "2026-01-06", "price": 46.89}, {"date": "2026-01-07", "price": 45.14}, {"date": "2026-01-09", "price": 46.60},
      {"date": "2026-01-11", "price": 46.57}, {"date": "2026-01-13", "price": 46.36}, {"date": "2026-01-14", "price": 48.03},
      {"date": "2026-01-16", "price": 47.60}, {"date": "2026-01-20", "price": 47.60}, {"date": "2026-01-21", "price": 48.74},
      {"date": "2026-01-24", "price": 49.21}, {"date": "2026-01-27", "price": 49.26}, {"date": "2026-01-28", "price": 50.03},
      {"date": "2026-01-30", "price": 51.03}, {"date": "2026-02-01", "price": 50.79}, {"date": "2026-02-03", "price": 50.07},
      {"date": "2026-02-04", "price": 52.86}, {"date": "2026-02-05", "price": 52.21}, {"date": "2026-02-06", "price": 53.26},
      {"date": "2026-02-09", "price": 53.57}, {"date": "2026-02-11", "price": 53.64}, {"date": "2026-02-12", "price": 55.00},
      {"date": "2026-02-13", "price": 54.03}, {"date": "2026-02-15", "price": 54.14}, {"date": "2026-02-17", "price": 53.79},
      {"date": "2026-02-19", "price": 55.17}, {"date": "2026-02-21", "price": 54.93}, {"date": "2026-02-23", "price": 55.17},
      {"date": "2026-02-25", "price": 54.93}, {"date": "2026-02-27", "price": 55.14}, {"date": "2026-02-28", "price": 56.07},
      {"date": "2026-03-03", "price": 57.07}, {"date": "2026-03-05", "price": 56.21}, {"date": "2026-03-07", "price": 56.57}
    ]
  },
  "mark": {"type": "line", "color": "#000080", "strokeWidth": 5, "strokeJoin": "round"},
  "encoding": {
    "x": {
      "field": "date",
      "type": "temporal",
      "scale": {
        "type": "utc",
        "domain": [
          {"year": 2021, "month": 1, "date": 1, "utc": true},
          {"year": 2026, "month": 3, "date": 7, "utc": true}
        ]
      },
      "axis": {
        "format": "%-m/%-d/%Y",
        "tickCount": {"interval": "month", "step": 3},
        "labelAngle": -90,
        "labelPadding": 16,
        "grid": false
      }
    },
    "y": {
      "field": "price",
      "type": "quantitative",
      "scale": {"domain": [0, 60], "nice": false, "zero": true},
      "axis": {
        "values": [0, 10, 20, 30, 40, 50, 60],
        "format": "$.2f",
        "labelPadding": 27,
        "grid": true,
        "gridColor": "#606060",
        "gridWidth": 1.5,
        "gridOpacity": 1
      }
    }
  }
}
